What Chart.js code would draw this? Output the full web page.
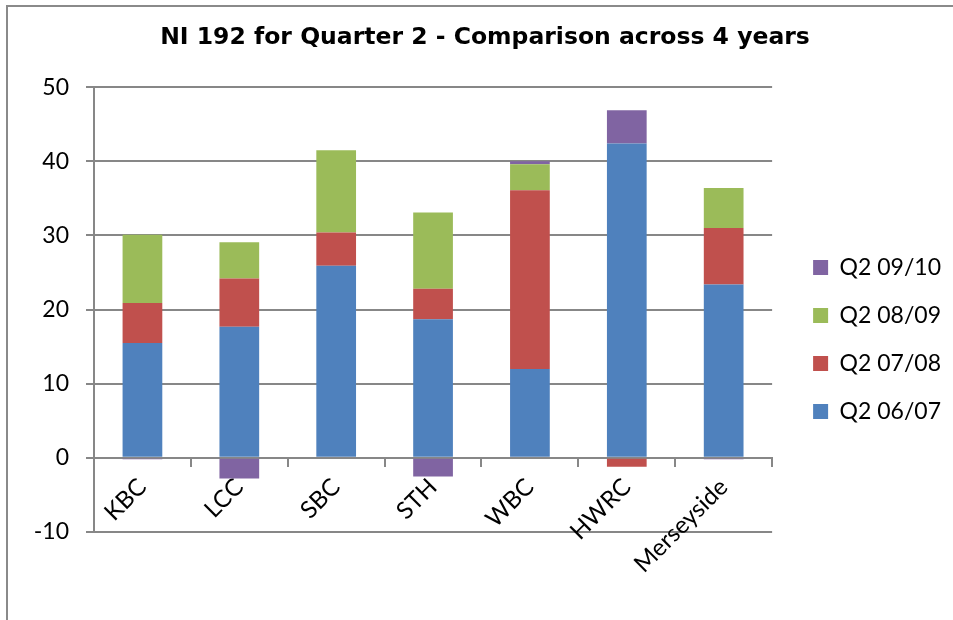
<!DOCTYPE html>
<html>
<head>
<meta charset="utf-8">
<title>NI 192 for Quarter 2</title>
<script src="https://cdn.jsdelivr.net/npm/chart.js@4/dist/chart.umd.min.js"></script>
<style>
    html, body { margin: 0; padding: 0; background: #fff; }
    .frame {
        position: relative;
        width: 953px;
        height: 620px;
        overflow: hidden;
    }
    .frame::before {
        content: '';
        position: absolute;
        left: 6px;
        top: 5px;
        width: 1000px;
        height: 700px;
        border-left: 2px solid #8a8a8a;
        border-top: 2px solid #8a8a8a;
    }
    canvas { position: absolute; left: 0; top: 0; }
</style>
</head>
<body>
<div class="frame">
    <canvas id="ni192" width="953" height="620"></canvas>
</div>
<script>
var areas = ['KBC', 'LCC', 'SBC', 'STH', 'WBC', 'HWRC', 'Merseyside'];
var q2_0607 = [15.5, 17.7, 25.9, 18.7, 12.0, 42.4, 23.4];
var q2_0708 = [5.4, 6.5, 4.5, 4.1, 24.1, -1.2, 7.6];
var q2_0809 = [9.2, 4.9, 11.1, 10.3, 3.5, 0, 5.4];
var q2_0910 = [-0.2, -2.8, 0, -2.5, 0.4, 4.5, -0.2];
var yTicks = { min: -10, max: 50, step: 10 };

(function () {
    var colors = {
        blue: '#4f81bd',
        red: '#c0504d',
        green: '#9bbb59',
        purple: '#8064a2',
        axis: '#878787'
    };
    var labelFont = { family: "Lato, 'Noto Sans', sans-serif", size: 23 };

    // keeps the key a little further from the plot and level with the bars
    var legendNudge = {
        id: 'legendNudge',
        afterLayout: function (chart) {
            var legend = chart.legend;
            var dx = 16;
            var dy = 30;
            legend.left += dx;
            legend.right += dx;
            legend.top += dy;
            legend.bottom += dy;
        }
    };

    function series(label, values, color) {
        return {
            label: label,
            data: values,
            backgroundColor: color,
            borderWidth: 0,
            barPercentage: 0.41,
            categoryPercentage: 1
        };
    }

    new Chart(document.getElementById('ni192'), {
        type: 'bar',
        data: {
            labels: areas,
            datasets: [
                series('Q2 06/07', q2_0607, colors.blue),
                series('Q2 07/08', q2_0708, colors.red),
                series('Q2 08/09', q2_0809, colors.green),
                series('Q2 09/10', q2_0910, colors.purple)
            ]
        },
        options: {
            responsive: false,
            animation: false,
            layout: { padding: { top: 5, left: 35, right: 18, bottom: 88 } },
            plugins: {
                title: {
                    display: true,
                    text: 'NI 192 for Quarter 2 - Comparison across 4 years',
                    color: '#000',
                    font: { family: "'DejaVu Sans', sans-serif", size: 23.5, weight: 'bold' },
                    padding: { top: 19, bottom: 35 }
                },
                legend: {
                    position: 'right',
                    fullSize: false,
                    reverse: true,
                    labels: {
                        color: '#000',
                        font: labelFont,
                        boxWidth: 15,
                        boxHeight: 15,
                        padding: 25
                    }
                },
                tooltip: { enabled: false }
            },
            scales: {
                x: {
                    stacked: true,
                    position: { y: 0 },
                    grid: {
                        drawOnChartArea: false,
                        offset: true,
                        tickLength: 8,
                        color: colors.axis,
                        lineWidth: 2
                    },
                    border: { color: colors.axis, width: 2 },
                    ticks: {
                        color: '#000',
                        font: { family: labelFont.family, size: 24 },
                        minRotation: 45,
                        maxRotation: 45,
                        padding: 7
                    }
                },
                y: {
                    stacked: true,
                    min: yTicks.min,
                    max: yTicks.max,
                    grid: {
                        color: colors.axis,
                        lineWidth: 2,
                        tickLength: 8
                    },
                    border: { color: colors.axis, width: 2 },
                    ticks: {
                        stepSize: yTicks.step,
                        color: '#000',
                        font: labelFont,
                        padding: 17
                    },
                    afterFit: function (scale) {
                        scale.width = 59;
                    }
                }
            }
        },
        plugins: [legendNudge]
    });
}());
</script>
</body>
</html>
